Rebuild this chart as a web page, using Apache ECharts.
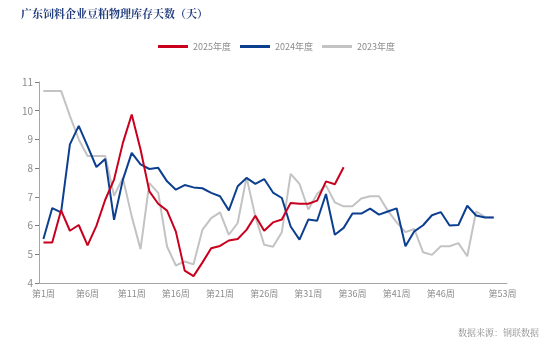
<!DOCTYPE html>
<html>
<head>
<meta charset="utf-8">
<script src="https://cdn.jsdelivr.net/npm/echarts@6/dist/echarts.min.js"></script>
<style>
  html, body { margin: 0; padding: 0; background: #fff; }
  #chart { width: 553px; height: 346px; }
</style>
</head>
<body>
<div id="chart"></div>
<script>
// Week labels 第1周 … 第53周
const weeks = Array.from({ length: 53 }, (_, i) => '第' + (i + 1) + '周');

// Days of soybean-meal inventory held by Guangdong feed mills
const y2025 = [5.41, 5.41, 6.53, 5.82, 6.02, 5.31, 5.99, 6.90, 7.60, 8.88,
               9.87, 8.65, 7.19, 6.76, 6.52, 5.79, 4.43, 4.24, 4.71, 5.21,
               5.29, 5.48, 5.53, 5.85, 6.34, 5.82, 6.11, 6.21, 6.79, 6.76,
               6.76, 6.87, 7.54, 7.44, 8.03];

const y2024 = [5.53, 6.61, 6.46, 8.83, 9.47, 8.77, 8.04, 8.32, 6.20, 7.60,
               8.53, 8.13, 7.97, 8.01, 7.54, 7.25, 7.41, 7.33, 7.30, 7.14,
               7.02, 6.53, 7.37, 7.66, 7.45, 7.62, 7.15, 6.96, 5.97, 5.51,
               6.21, 6.17, 7.10, 5.68, 5.92, 6.42, 6.42, 6.59, 6.38, 6.49,
               6.60, 5.28, 5.80, 6.01, 6.36, 6.47, 6.00, 6.02, 6.69, 6.35,
               6.28, 6.28];

const y2023 = [10.69, 10.69, 10.69, 9.82, 9.00, 8.42, 8.42, 8.42, 7.04, 7.66,
               6.32, 5.18, 7.48, 7.14, 5.27, 4.61, 4.75, 4.65, 5.85, 6.26,
               6.46, 5.68, 6.09, 7.68, 6.32, 5.33, 5.26, 5.77, 7.80, 7.45,
               6.56, 7.10, 7.40, 6.81, 6.67, 6.67, 6.94, 7.02, 7.02, 6.52,
               6.11, 5.77, 5.88, 5.07, 4.98, 5.28, 5.28, 5.39, 4.93, 6.49,
               6.30, 6.28];

const seriesNames = ['2025年度', '2024年度', '2023年度'];
const seriesColors = ['#c8001e', '#0c3f8f', '#c3c3c3'];
const seriesData = [y2025, y2024, y2023];

const chart = echarts.init(document.getElementById('chart'), null, { renderer: 'canvas' });

const labelFont = '"Noto Sans CJK SC", "Liberation Sans", sans-serif';

chart.setOption({
  animation: false,
  backgroundColor: '#ffffff',
  title: {
    text: '广东饲料企业豆粕物理库存天数（天）',
    left: 16,
    top: 3,
    textStyle: {
      color: '#1f3a7c',
      fontSize: 11,
      fontWeight: 'bold',
      fontFamily: '"Noto Serif CJK SC", "Noto Sans CJK SC", serif'
    }
  },
  legend: {
    data: seriesNames,
    left: 'center',
    top: 37,
    icon: 'rect',
    itemWidth: 30,
    itemHeight: 3,
    itemGap: 9,
    textStyle: { color: '#8c8c8c', fontSize: 9, fontFamily: labelFont }
  },
  grid: {
    left: 39,
    right: 46,
    top: 82,
    bottom: 63,
    containLabel: false
  },
  xAxis: {
    type: 'category',
    data: weeks,
    boundaryGap: true,
    axisLine: { lineStyle: { color: '#a6a6a6', width: 1 } },
    axisTick: {
      length: 4,
      lineStyle: { color: '#7f7f7f' },
      interval: function (i) { return i % 5 === 0; }
    },
    axisLabel: {
      color: '#8c8c8c',
      fontSize: 9,
      margin: 6,
      fontFamily: labelFont,
      interval: function (i) { return (i % 5 === 0 && i !== 50) || i === 52; }
    },
    splitLine: { show: false }
  },
  yAxis: {
    type: 'value',
    min: 4,
    max: 11,
    interval: 1,
    axisLine: { show: true, lineStyle: { color: '#a6a6a6', width: 1 } },
    axisTick: { show: true, length: 4, lineStyle: { color: '#7f7f7f' } },
    axisLabel: { color: '#8c8c8c', fontSize: 10, margin: 6, fontFamily: labelFont },
    splitLine: { show: false }
  },
  series: seriesNames.map((name, k) => ({
    name: name,
    type: 'line',
    data: seriesData[k],
    symbol: 'none',
    smooth: false,
    z: 3 - k,
    lineStyle: { color: seriesColors[k], width: 2 },
    itemStyle: { color: seriesColors[k] }
  })),
  graphic: [{
    type: 'text',
    right: 14,
    top: 328,
    style: {
      text: '数据来源：钢联数据',
      fill: '#8c8c8c',
      fontSize: 9,
      fontFamily: '"Noto Serif CJK SC", "Noto Sans CJK SC", serif'
    }
  }]
});
</script>
</body>
</html>
